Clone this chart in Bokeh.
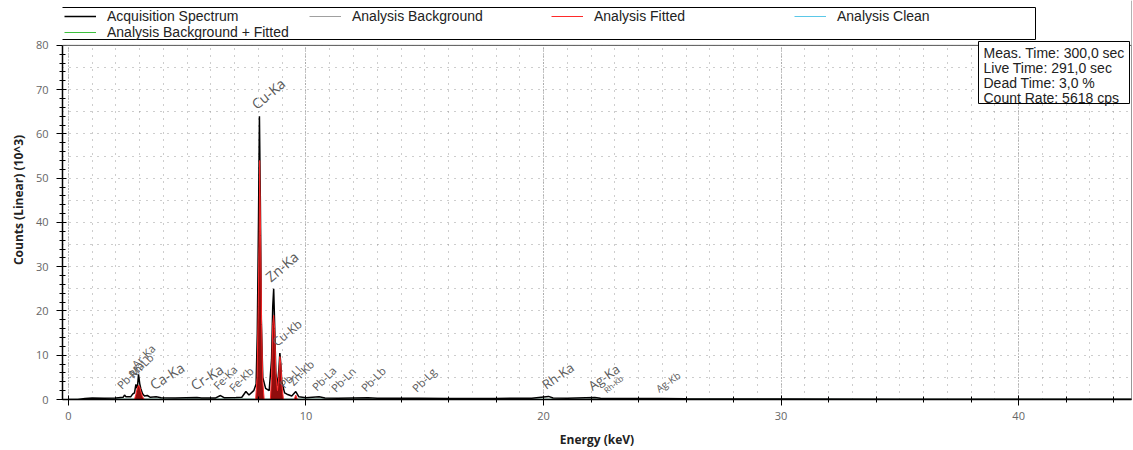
import numpy as np
from bokeh.plotting import figure
from bokeh.models import (Legend, LegendItem, Label, BoxAnnotation, SingleIntervalTicker,
                          Grid, ColumnDataSource, Range1d, Span)
from bokeh.core.properties import value
from bokeh.embed import file_html
from bokeh.resources import INLINE

# ---------------- data ----------------
series_names = ["Acquisition Spectrum", "Analysis Background", "Analysis Fitted",
                "Analysis Clean", "Analysis Background + Fitted"]

acq_energy = [0.0, 0.4, 0.7, 1.0, 1.5, 2.0, 2.3, 2.36, 2.42, 2.62, 2.7, 2.78, 2.84, 2.9, 2.95,
              3.0, 3.05, 3.12, 3.2, 3.32, 3.45, 3.69, 3.9, 4.5, 5.41, 5.6, 6.2, 6.4, 6.55, 7.06,
              7.3, 7.47, 7.6, 7.8, 7.9, 7.95, 8.0, 8.04, 8.08, 8.12, 8.18, 8.3, 8.45, 8.55, 8.6,
              8.64, 8.68, 8.73, 8.8, 8.86, 8.9, 8.94, 8.98, 9.1, 9.2, 9.4, 9.57, 9.7, 10.0, 10.55,
              10.8, 11.35, 12.61, 13.0, 14.76, 16.0, 18.0, 19.5, 20.21, 20.4, 21.0, 22.16, 22.4,
              23.5, 24.94, 26.0, 30.0, 35.0, 40.0, 45.0]
acq_counts = [0.0, 0.02, 0.25, 0.35, 0.3, 0.35, 0.5, 1.0, 0.6, 0.6, 1.2, 1.5, 3.4, 2.5, 5.7,
              3.6, 2.4, 1.3, 0.8, 0.9, 0.5, 0.6, 0.4, 0.35, 0.45, 0.35, 0.35, 0.9, 0.4, 0.45,
              0.5, 1.8, 1.0, 2.0, 3.5, 15.0, 40.0, 64.0, 44.0, 18.0, 5.0, 2.5, 2.0, 9.0, 21.0,
              25.0, 17.0, 6.0, 3.0, 7.0, 10.5, 8.0, 4.0, 1.5, 1.2, 0.8, 1.8, 0.6, 0.4, 0.6,
              0.35, 0.3, 0.4, 0.3, 0.3, 0.25, 0.25, 0.3, 0.7, 0.35, 0.3, 0.45, 0.3,
              0.2, 0.25, 0.15, 0.1, 0.08, 0.05, 0.04]

fit_energy = [0.0, 2.78, 2.84, 2.9, 2.95, 3.0, 3.05, 3.12, 3.2, 7.88, 7.94, 7.99, 8.03, 8.05,
              8.09, 8.13, 8.18, 8.24, 8.5, 8.55, 8.6, 8.64, 8.68, 8.73, 8.8, 8.85, 8.9, 8.94,
              8.99, 9.05, 9.5, 9.57, 9.64, 45.0]
fit_counts = [0.0, 0.0, 1.2, 2.6, 3.2, 2.9, 1.8, 0.6, 0.0, 0.0, 5.0, 21.0, 38.0, 54.0,
              37.0, 17.0, 4.0, 0.0, 0.0, 5.0, 17.0, 19.0, 16.0, 6.0, 2.0, 5.0, 9.7, 8.0,
              3.0, 0.0, 0.0, 1.0, 0.0, 0.0]

bkg_energy = [0.0, 0.5, 1.0, 2.0, 3.0, 5.0, 8.0, 10.0, 15.0, 20.0, 25.0, 30.0, 35.0, 40.0, 45.0]
bkg_counts = [0.0, 0.01, 0.04, 0.05, 0.05, 0.05, 0.04, 0.04, 0.03, 0.03, 0.02, 0.02, 0.01, 0.01, 0.01]

peak_names = ["Pb-Ma", "Rh-Lb", "Ar-Ka", "Ca-Ka", "Cr-Ka", "Fe-Ka", "Fe-Kb", "Cu-Ka", "Zn-Ka",
              "Cu-Kb", "Pb-Ll", "Zn-Kb", "Pb-La", "Pb-Ln", "Pb-Lb", "Pb-Lg", "Rh-Ka", "Ag-Ka",
              "Rh-Kb", "Ag-Kb"]
peak_energies = [2.34, 2.83, 2.96, 3.69, 5.41, 6.40, 7.06, 8.05, 8.64, 8.90, 9.18, 9.57, 10.55,
                 11.35, 12.61, 14.76, 20.21, 22.16, 22.72, 24.94]

info_lines = ["Meas. Time: 300,0 sec", "Live Time: 291,0 sec", "Dead Time: 3,0 %",
              "Count Rate: 5618 cps"]

x_title = "Energy (keV)"
y_title = "Counts (Linear) (10^3)"
x_min, x_max = -0.25, 44.75
y_max = 80

# ---------------- styles ----------------
label_style = {"Cu-Ka": (14, 40), "Zn-Ka": (14, 40), "Ca-Ka": (14, 32), "Cr-Ka": (14, 32),
               "Cu-Kb": (12, 40), "Rh-Ka": (13, 35), "Ag-Ka": (13, 35), "Ag-Kb": (10, 35),
               "Rh-Kb": (8, 40)}
default_style = (11, 45)

ae = np.array(acq_energy)
ac = np.array(acq_counts)
lab_y, lab_size, lab_angle = [], [], []
for nm, e in zip(peak_names, peak_energies):
    m = np.abs(ae - e) <= 0.06
    lab_y.append(float(ac[m].max()) if m.any() else float(np.interp(e, ae, ac)))
    fs, ang = label_style.get(nm, default_style)
    lab_size.append(f"{fs}px")
    lab_angle.append(np.deg2rad(ang))
lab_src = ColumnDataSource(dict(x=peak_energies, y=lab_y, text=peak_names,
                                size=lab_size, angle=lab_angle))

# ---------------- figure ----------------
# frame spans the whole canvas height; data area 0..80 occupies the lower 355 px
PX_PER_UNIT = 355 / y_max
p = figure(width=1133, height=450, x_range=Range1d(x_min, x_max),
           y_range=Range1d(0, 400 / PX_PER_UNIT),
           min_border_left=62, min_border_right=2, min_border_top=0, min_border_bottom=50,
           output_backend="svg", toolbar_location=None, background_fill_color="white")
p.outline_line_color = None

# grids
p.xgrid.ticker = SingleIntervalTicker(interval=1)
p.ygrid.ticker = SingleIntervalTicker(interval=5)
for g in (p.xgrid, p.ygrid):
    g.grid_line_color = "#9a9a9a"
    g.grid_line_dash = "1 6"
    g.grid_line_width = 1
p.ygrid.bounds = (0, y_max)
major_x = Grid(dimension=0, ticker=SingleIntervalTicker(interval=10),
               grid_line_color="#8a8a8a", grid_line_dash="1 2", grid_line_width=1)
p.add_layout(major_x)

# axes
p.xaxis.ticker = SingleIntervalTicker(interval=10, num_minor_ticks=5)
p.yaxis.ticker = SingleIntervalTicker(interval=10, num_minor_ticks=5)
p.yaxis.bounds = (0, y_max)
for ax in (p.xaxis, p.yaxis):
    ax.axis_line_color = "black"
    ax.axis_line_width = 1.5
    ax.major_tick_line_color = "black"
    ax.minor_tick_line_color = "black"
    ax.major_tick_in = 4
    ax.major_tick_out = 6
    ax.minor_tick_in = 3
    ax.minor_tick_out = 3
    ax.major_label_text_font = "Open Sans"
    ax.major_label_text_font_size = "11px"
    ax.major_label_text_color = "#666666"
    ax.axis_label_text_font = "Open Sans"
    ax.axis_label_text_font_size = "12px"
    ax.axis_label_text_font_style = "bold"
    ax.axis_label_text_color = "#222222"
p.xaxis.axis_label = x_title
p.yaxis.axis_label = y_title
p.xaxis.major_label_standoff = 6
p.yaxis.major_label_standoff = 8
p.xaxis.axis_label_standoff = 8
p.yaxis.axis_label_standoff = 6

# series (background-type series sit under the acquisition line / axis)
r_bf = p.line(bkg_energy, bkg_counts, line_color="#3cbf3c", line_width=1)
r_clean = p.line(bkg_energy, bkg_counts, line_color="#5bc8e8", line_width=1)
r_bkg = p.line(bkg_energy, bkg_counts, line_color="#a0a0a0", line_width=1)
r_acq = p.line(acq_energy, acq_counts, line_color="black", line_width=1.5)
p.varea(x=fit_energy, y1=0, y2=fit_counts, fill_color="#8b0000", fill_alpha=0.95)
r_fit = p.line(fit_energy, fit_counts, line_color="#ff2a2a", line_width=1)

# peak labels
p.text(x="x", y="y", text="text", angle="angle", text_font_size="size", source=lab_src,
       text_font=value("Open Sans"), text_color="#5a5a5a", text_align="left",
       text_baseline="bottom", y_offset=-3)

# frame border (right and top of data area) and blank strip above it
p.add_layout(Span(location=x_max, dimension="height", line_color="#333333", line_width=1))
p.add_layout(BoxAnnotation(bottom=y_max, fill_color="white", fill_alpha=1, line_alpha=0))
p.add_layout(Span(location=y_max, dimension="width", line_color="#555555", line_width=1))

# legend (above the data area)
leg_common = dict(border_line_alpha=0, background_fill_alpha=0, padding=0, margin=0, spacing=0,
                  glyph_width=32, glyph_height=16, label_height=16, label_standoff=11,
                  label_text_font="Liberation Sans", label_text_font_size="14px",
                  label_text_color="#222222")
renderers = [r_acq, r_bkg, r_fit, r_clean, r_bf]
p.add_layout(Legend(items=[LegendItem(label=series_names[0], renderers=[renderers[0]]),
                           LegendItem(label=series_names[4], renderers=[renderers[4]])],
                    location=(2, 359), **leg_common))
for idx, lx in zip((1, 2, 3), (247, 489, 732)):
    p.add_layout(Legend(items=[LegendItem(label=series_names[idx], renderers=[renderers[idx]])],
                        location=(lx, 375), **leg_common))
p.add_layout(BoxAnnotation(left=-1, right=973, bottom=360, top=392, left_units="screen",
                           right_units="screen", bottom_units="screen", top_units="screen",
                           fill_alpha=0, line_color="black", line_alpha=1, line_width=1))

# info box
p.add_layout(BoxAnnotation(left=916, right=1067, bottom=296, top=358, left_units="screen",
                           right_units="screen", bottom_units="screen", top_units="screen",
                           fill_color="white", fill_alpha=1, line_color="black", line_alpha=1,
                           line_width=1))
for i, txt in enumerate(info_lines):
    p.add_layout(Label(x=921, y=347 - 15 * i, x_units="screen", y_units="screen", text=txt,
                       text_font="Liberation Sans", text_font_size="14px",
                       text_color="#222222", text_align="left", text_baseline="middle"))

open("out.html", "w").write(file_html(p, INLINE))
